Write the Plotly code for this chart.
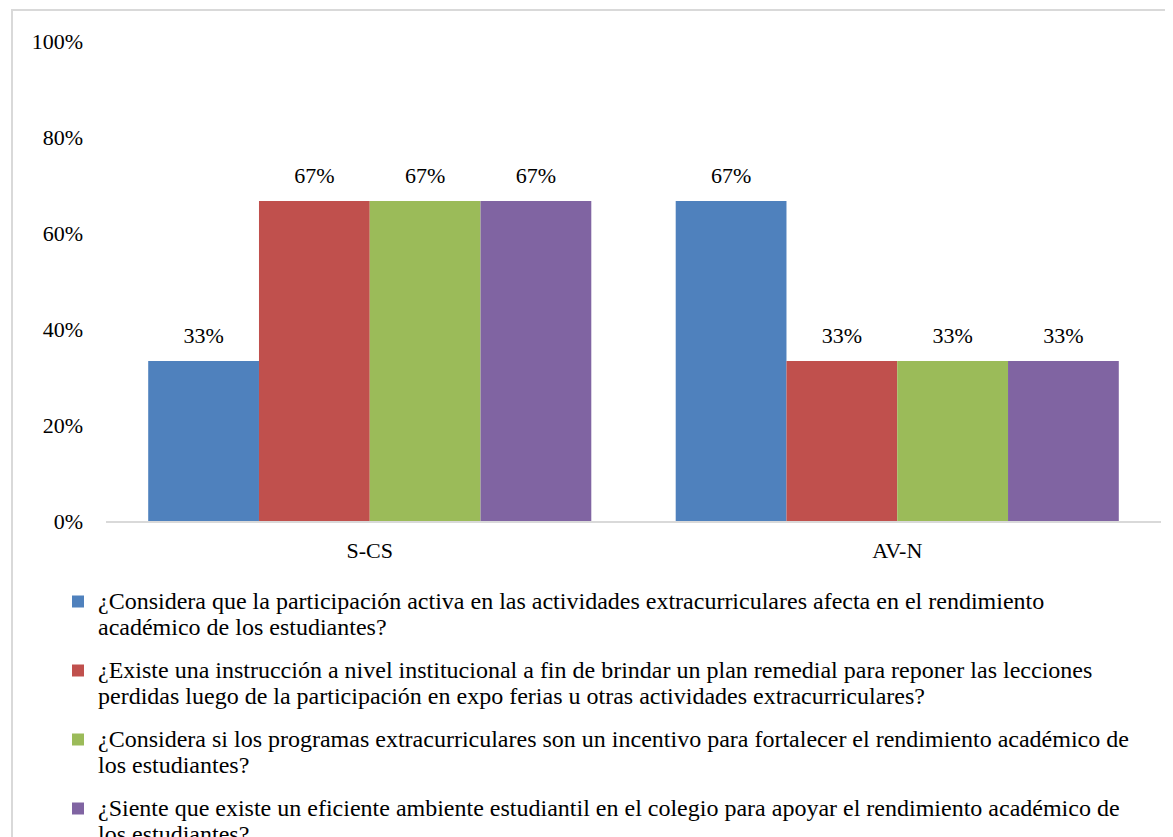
import plotly.graph_objects as go

categories = ["S-CS", "AV-N"]
series_lines = [
    ["¿Considera que la participación activa en las actividades extracurriculares afecta en el rendimiento",
     "académico de los estudiantes?"],
    ["¿Existe una instrucción a nivel institucional a fin de brindar un plan remedial para reponer las lecciones",
     "perdidas luego de la participación en expo ferias u otras actividades extracurriculares?"],
    ["¿Considera si los programas extracurriculares son un incentivo para fortalecer el rendimiento académico de",
     "los estudiantes?"],
    ["¿Siente que existe un eficiente ambiente estudiantil en el colegio para apoyar el rendimiento académico de",
     "los estudiantes?"],
]
q1_values = [0.3333, 0.6667]
q2_values = [0.6667, 0.3333]
q3_values = [0.6667, 0.3333]
q4_values = [0.6667, 0.3333]
series_values = [q1_values, q2_values, q3_values, q4_values]
colors = ["#4F81BD", "#C0504D", "#9BBB59", "#8064A2"]
tick_vals = [0, 0.2, 0.4, 0.6, 0.8, 1.0]

FONT = "Liberation Serif, Times New Roman, serif"
LEG_SIZE = 24

def legend_name(lines):
    return "<br>".join(f"<span style='font-size:{LEG_SIZE}px'>{ln}</span>" for ln in lines)

fig = go.Figure()
for i, (lines, vals, col) in enumerate(zip(series_lines, series_values, colors)):
    fig.add_trace(go.Bar(
        x=categories, y=vals, name=legend_name(lines),
        marker=dict(color=col, line=dict(width=0)),
        legendgroup=f"g{i}", offsetgroup=f"o{i}",
    ))
for i, vals in enumerate(series_values):
    # invisible marker only serves as spacing between bar top and its label
    fig.add_trace(go.Scatter(
        x=categories, y=vals, mode="markers+text", texttemplate="%{y:.0%}",
        textposition="top center", cliponaxis=False, showlegend=False,
        hoverinfo="skip", marker=dict(size=18, color="rgba(0,0,0,0)"),
        textfont=dict(family=FONT, size=22, color="#000000"),
        offsetgroup=f"o{i}",
    ))

# page is offset by the 8px body margin
plot_left, plot_right, plot_top, plot_bottom = 98, 1153, 33, 513
W, H = 1165, 829
pw = plot_right - plot_left
ph = plot_bottom - plot_top

fig.update_layout(
    width=W, height=H,
    margin=dict(l=plot_left, r=W - plot_right, t=plot_top, b=H - plot_bottom, autoexpand=False),
    paper_bgcolor="white", plot_bgcolor="white",
    font=dict(family=FONT, size=22, color="#000000"),
    barmode="group", bargap=0.16, bargroupgap=0,
    scattermode="group", scattergap=0.16,
    showlegend=True,
    legend=dict(
        orientation="v", x=(50 - plot_left) / pw, xanchor="left",
        y=(plot_bottom - 574) / ph, yanchor="top", valign="top",
        tracegroupgap=14, itemwidth=30, bgcolor="rgba(0,0,0,0)",
        font=dict(family=FONT, size=20, color="#000000"),
    ),
    xaxis=dict(
        showgrid=False, showline=True, linecolor="#D9D9D9", linewidth=2,
        ticks="", ticklabelstandoff=9, tickfont=dict(family=FONT, size=22),
    ),
    yaxis=dict(
        range=[0, 1], tickvals=tick_vals, tickformat=".0%", showgrid=False,
        zeroline=False, showline=False, ticks="", ticklabelstandoff=22,
        tickfont=dict(family=FONT, size=22),
    ),
    shapes=[
        dict(type="rect", xref="paper", yref="paper",
             x0=(4 - plot_left) / pw, x1=(1200 - plot_left) / pw,
             y0=(plot_bottom - 900) / ph, y1=(plot_bottom - 2) / ph,
             line=dict(color="#D9D9D9", width=2), fillcolor="rgba(0,0,0,0)", layer="below"),
    ],
)

fig.write_html("out.html")
